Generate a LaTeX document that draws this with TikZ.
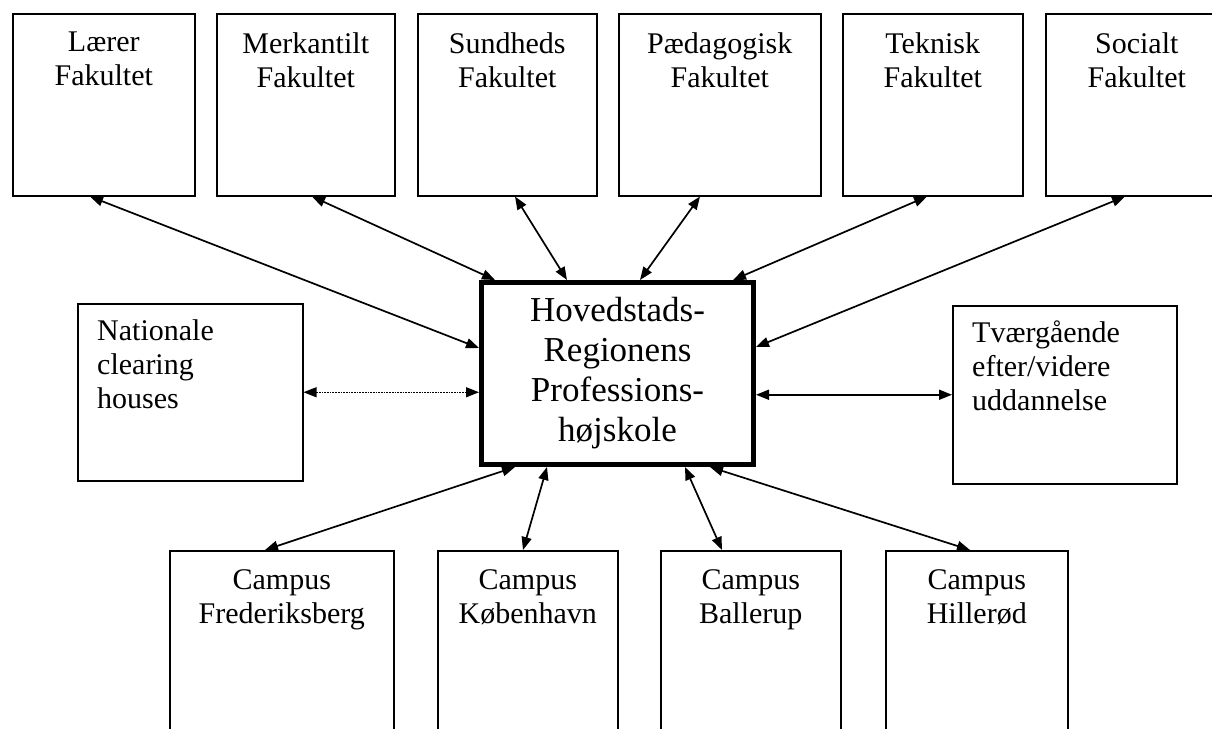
\documentclass[tikz,border=0pt]{standalone}
\usepackage{fontspec}
\setmainfont{Liberation Serif}
\usetikzlibrary{arrows.meta}
\usetikzlibrary{positioning}
\usetikzlibrary{calc}
\tikzstyle{box}=[draw,rectangle,line width=1.5pt,inner sep=0pt,anchor=north west]
\tikzstyle{hub}=[draw,rectangle,line width=5pt,inner sep=0pt,anchor=north west]

\begin{document}
\begin{tikzpicture}[
  x=1pt,y=-1pt,
  boxtext/.style={font=\fontsize{30}{34}\selectfont},
  top/.style={label={[boxtext,align=center,anchor=north,inner sep=0pt,yshift=-19pt]north:#1}},
  left/.style={label={[boxtext,align=left,anchor=north west,inner sep=0pt,xshift=20pt,yshift=-16pt]north west:#1}},
  link/.style={line width=1.7pt,{Triangle[length=13pt,width=10pt]}-{Triangle[length=13pt,width=10pt]}},
  weak link/.style={link,densely dotted,line width=1.1pt},
]
  \useasboundingbox (0,0) rectangle (1212,728);
  % faculties
  \node[box,minimum width=182,minimum height=182,top={Lærer\\Fakultet}] (laerer) at (12,13) {};
  \node[box,minimum width=178,minimum height=182,top={Merkantilt\\Fakultet}] (merk) at (216,13) {};
  \node[box,minimum width=179,minimum height=182,top={Sundheds\\Fakultet}] (sund) at (417,13) {};
  \node[box,minimum width=202,minimum height=182,top={Pædagogisk\\Fakultet}] (paed) at (618,13) {};
  \node[box,minimum width=180,minimum height=182,top={Teknisk\\Fakultet}] (tekn) at (842,13) {};
  \node[box,minimum width=182,minimum height=182,top={Socialt\\Fakultet}] (soc) at (1045,13) {};
  % middle row
  \node[hub,minimum width=272,minimum height=182,align=center,
        font=\fontsize{35}{40}\selectfont] (hps) at (479,280)
        {Hovedstads-\\Regionens\\Professions-\\højskole};
  \node[box,minimum width=225,minimum height=177,left={Nationale\\clearing\\houses}] (nat) at (77,303) {};
  \node[box,minimum width=224,minimum height=178,left={Tværgående\\efter/videre\\uddannelse}] (tvaer) at (952,305) {};
  % campuses
  \node[box,minimum width=224,minimum height=200,top={Campus\\Frederiksberg}] (frb) at (169,550) {};
  \node[box,minimum width=180,minimum height=200,top={Campus\\København}] (kbh) at (437,550) {};
  \node[box,minimum width=180,minimum height=200,top={Campus\\Ballerup}] (bal) at (660,550) {};
  \node[box,minimum width=182,minimum height=200,top={Campus\\Hillerød}] (hil) at (885,550) {};

  \draw[link] ([xshift=78pt]laerer.south west) -- ([yshift=-68pt]hps.north west);
  \draw[link] ([xshift=96pt]merk.south west) -- ([xshift=16pt]hps.north west);
  \draw[link] ([xshift=98pt]sund.south west) -- ([xshift=88pt]hps.north west);
  \draw[link] ([xshift=82pt]paed.south west) -- ([xshift=161pt]hps.north west);
  \draw[link] ([xshift=85pt]tekn.south west) -- ([xshift=254pt]hps.north west);
  \draw[link] ([xshift=80pt]soc.south west) -- ([yshift=-67pt]hps.north east);
  \draw[weak link] (nat.east) -- (nat.east -| hps.west);
  \draw[link] (tvaer.west -| hps.east) -- (tvaer.west);
  \draw[link] ([xshift=36pt]hps.south west) -- ([xshift=96pt]frb.north west);
  \draw[link] ([xshift=68pt]hps.south west) -- ([xshift=86pt]kbh.north west);
  \draw[link] ([xshift=206pt]hps.south west) -- ([xshift=62pt]bal.north west);
  \draw[link] ([xshift=231pt]hps.south west) -- ([xshift=85pt]hil.north west);
\end{tikzpicture}
\end{document}
